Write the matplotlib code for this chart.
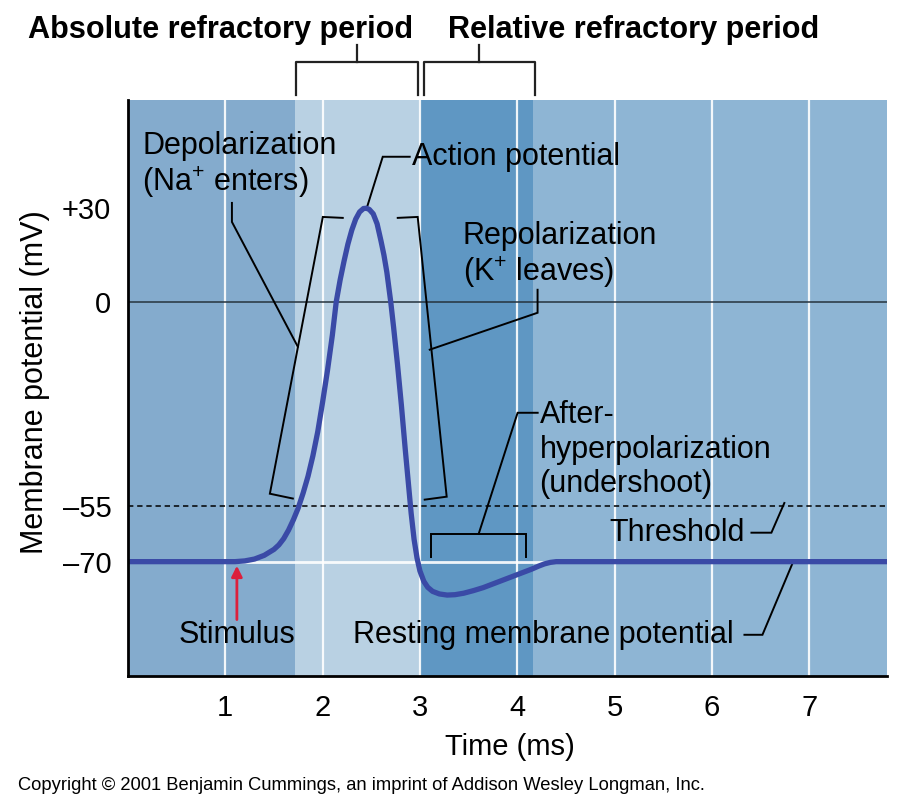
import numpy as np
import matplotlib
matplotlib.use('Agg')
import matplotlib.pyplot as plt

plt.rcParams['font.family'] = ['Liberation Sans', 'DejaVu Sans']
plt.rcParams['mathtext.fontset'] = 'custom'
plt.rcParams['mathtext.rm'] = 'Liberation Sans'
plt.rcParams['mathtext.it'] = 'Liberation Sans:italic'
plt.rcParams['mathtext.bf'] = 'Liberation Sans:bold'

# membrane potential trace (ms, mV)
time_ms = [0.0, 1.1, 1.2, 1.3, 1.4, 1.5, 1.55, 1.6, 1.65, 1.7, 1.75, 1.8, 1.85, 1.9,
           1.95, 2.0, 2.05, 2.1, 2.14, 2.18, 2.22, 2.26, 2.3, 2.34, 2.38, 2.42, 2.45,
           2.48, 2.52, 2.56, 2.6, 2.63, 2.66, 2.7, 2.73, 2.77, 2.81, 2.85, 2.88, 2.91,
           2.94, 2.97, 3.0, 3.04, 3.08, 3.13, 3.2, 3.28, 3.36, 3.45, 3.55, 3.65, 3.75,
           3.85, 3.95, 4.05, 4.15, 4.22, 4.28, 4.34, 4.4, 7.8]
potential_mv = [-70, -70, -69.8, -69.3, -68.3, -66.7, -65.5, -63.8, -61.5, -58.7, -55.5, -51.5,
                -47, -41.5, -35, -27, -18.5, -9, 0, 7, 13, 18.5, 23, 26.5, 28.8, 29.9, 30,
                29.6, 28.2, 25, 19.5, 15, 9.5, 0, -7, -17, -28, -40, -48.5, -57,
                -64, -69, -72.5, -75.3, -76.9, -78, -78.7, -79, -78.9, -78.5, -77.8, -77, -76,
                -75, -74, -73, -72, -71.2, -70.6, -70.2, -70, -70]

rest_mv = -70
threshold_mv = -55
zero_mv = 0

y_ticks = [30, 0, -55, -70]
y_tick_labels = ['+30', '0', '\u201355', '\u201370']
x_ticks = [1, 2, 3, 4, 5, 6, 7]

# background bands (start, end, colour)
band_edges = [0, 1.715, 3.0, 4.158, 7.8]
band_colors = ['#84abcd', '#b9d1e3', '#5f97c3', '#8eb5d4']

abs_period = (1.725, 2.977)
rel_period = (3.039, 4.179)

k_pos = 0.84


def fwd(y):
    y = np.asarray(y, dtype=float)
    return np.where(y > 0, y * k_pos, y)


def inv(y):
    y = np.asarray(y, dtype=float)
    return np.where(y > 0, y / k_pos, y)


fig = plt.figure(figsize=(9.08, 8.10), dpi=100)
ax = fig.add_axes([128 / 908, 1 - 676 / 810, (887 - 128) / 908, (676 - 100) / 810])
ax.set_yscale('function', functions=(fwd, inv))

for i in range(len(band_colors)):
    ax.axvspan(band_edges[i], band_edges[i + 1], color=band_colors[i], lw=0, zorder=0)
for xt in x_ticks:
    ax.axvline(xt, color='white', lw=1.6, alpha=0.9, zorder=1)

ax.axhline(rest_mv, color='white', lw=2, alpha=0.9, zorder=1)
ax.axhline(zero_mv, color='#25333d', lw=1.1, zorder=2)
ax.axhline(threshold_mv, color='black', lw=1.1, ls=(0, (3.5, 2.5)), zorder=2)

ax.plot(time_ms, potential_mv, color='#3a4aa6', lw=3.8, solid_capstyle='round',
        solid_joinstyle='round', zorder=5)

ax.set_xlim(0, 7.8)
ax.set_ylim(-100.8, 64.7)
ax.set_xticks(x_ticks)
ax.set_yticks(y_ticks)
ax.set_yticklabels(y_tick_labels)
ax.yaxis.set_minor_locator(matplotlib.ticker.NullLocator())
ax.tick_params(axis='both', length=0, labelsize=21)
ax.tick_params(axis='x', pad=13)
ax.tick_params(axis='y', pad=12)
for s in ['top', 'right']:
    ax.spines[s].set_visible(False)
for s in ['left', 'bottom']:
    ax.spines[s].set_linewidth(2)
    ax.spines[s].set_color('black')
    ax.spines[s].set_zorder(6)

ax.set_ylabel('Membrane potential (mV)', fontsize=22, va='center')
ax.yaxis.set_label_coords(-0.1225, 0.51)
ax.set_xlabel('Time (ms)', fontsize=21, va='center')
ax.xaxis.set_label_coords(0.503, -0.123)

lk = dict(color='black', lw=1.4, zorder=4, solid_joinstyle='miter')
fs = 22

# depolarization
ax.text(0.144, 43.75, 'Depolarization\n(Na$^{+}$ enters)', fontsize=fs, ha='left', va='center',
        linespacing=1.15, zorder=7)
ax.plot([1.068, 1.068, 1.745], [31.7, 25.6, -12.1], **lk)
ax.plot([2.207, 2.002, 1.458, 1.694], [26.9, 27.2, -51.7, -53.0], **lk)

# action potential
ax.text(2.915, 46.5, 'Action potential', fontsize=fs, ha='left', va='center', zorder=7)
ax.plot([2.895, 2.618, 2.454], [46.5, 46.5, 30.1], **lk)

# repolarization
ax.text(3.439, 14.9, 'Repolarization\n(K$^{+}$ leaves)', fontsize=fs, ha='left', va='center',
        linespacing=1.15, zorder=7)
ax.plot([2.772, 2.977, 3.275, 3.049], [26.9, 27.2, -52.5, -53.3], **lk)
ax.plot([4.209, 4.209, 3.101], [3.85, -2.96, -12.9], **lk)

# after-hyperpolarization
ax.text(4.23, -39.85, 'After-\nhyperpolarization\n(undershoot)', fontsize=fs, ha='left',
        va='center', linespacing=1.2, zorder=7)
ax.plot([4.21, 4.004, 3.604], [-29.9, -29.9, -62.5], **lk)
ax.plot([3.111, 3.111, 4.086, 4.086], [-68.7, -62.5, -62.5, -68.7], **lk)

# threshold
ax.text(4.949, -62.2, 'Threshold', fontsize=fs, ha='left', va='center', zorder=7)
ax.plot([6.407, 6.612, 6.745], [-62.2, -62.2, -54.2], **lk)

# resting membrane potential
ax.text(2.31, -89.7, 'Resting membrane potential', fontsize=fs, ha='left', va='center', zorder=7)
ax.plot([6.335, 6.52, 6.828], [-89.7, -89.7, -70.5], **lk)

# stimulus
ax.text(1.119, -89.7, 'Stimulus', fontsize=fs, ha='center', va='center', zorder=7)
ax.annotate('', xy=(1.119, -71.1), xytext=(1.119, -85.6),
            arrowprops=dict(arrowstyle='-|>', color='#dc1f3c', lw=2.0, mutation_scale=16,
                            shrinkA=0, shrinkB=0), zorder=7)

# refractory period brackets above the axes
tr = ax.get_xaxis_transform()
for (a, b) in [abs_period, rel_period]:
    ax.plot([a, a, b, b], [1.0087, 1.066, 1.066, 1.0087], transform=tr, clip_on=False,
            color='#222222', lw=1.6)
    ax.plot([(a + b) / 2] * 2, [1.066, 1.0955], transform=tr, clip_on=False,
            color='#222222', lw=1.6)
fig.text(28 / 908, 1 - 30 / 810, 'Absolute refractory period', fontsize=22.1,
         fontweight='bold', ha='left', va='center')
fig.text(448 / 908, 1 - 30 / 810, 'Relative refractory period', fontsize=22.1,
         fontweight='bold', ha='left', va='center')

fig.text(18 / 908, 1 - 785 / 810,
         'Copyright \u00a9 2001 Benjamin Cummings, an imprint of Addison Wesley Longman, Inc.',
         fontsize=13.2, ha='left', va='center')

fig.savefig('out.png', dpi=100, facecolor='white')
